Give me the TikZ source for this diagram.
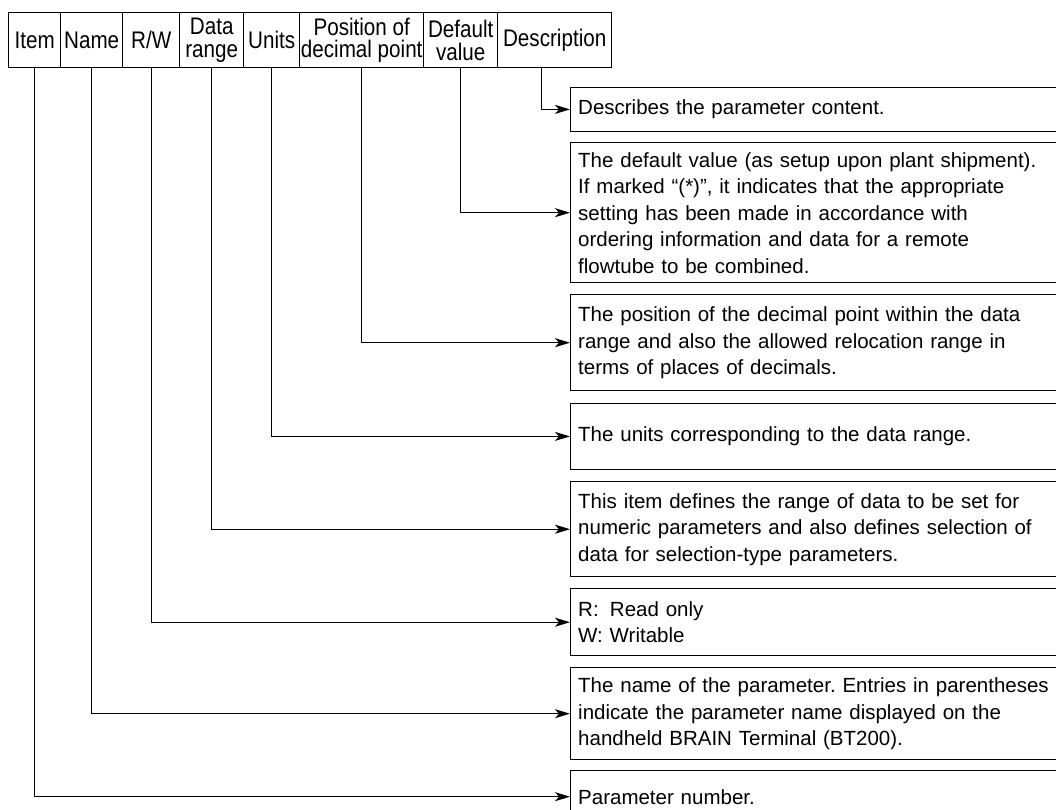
\documentclass[tikz,border=0pt]{standalone}
\usepackage{fontspec}
\setmainfont{Liberation Sans}
\newfontfamily\hdrfont[FakeStretch=0.86]{Liberation Sans}
\usetikzlibrary{arrows.meta}
\begin{document}
\frenchspacing
\begin{tikzpicture}[x=1pt,y=-1pt,
  hcell/.style={draw, line width=1.4pt, minimum height=55pt, inner sep=0pt, anchor=north west, align=center, font=\hdrfont\fontsize{24}{22.5}\selectfont},
  dbox/.style={draw, line width=1.4pt, anchor=north west, inner xsep=7.5pt, inner ysep=0pt, text width=480pt, align=left, font=\fontsize{20.5}{26.5}\selectfont},
  conn/.style={line width=1.3pt, -{Stealth[length=15pt,width=9pt,inset=4pt]}}
]
\useasboundingbox (0,0) rectangle (1056,809);
\clip (0,0) rectangle (1056,809);
\fill[white] (0,0) rectangle (1056,809);

% header
\node[hcell, minimum width=52pt]  (hItem) at (8,12)   {Item};
\node[hcell, minimum width=62pt]  (hName) at (60,12)  {Name};
\node[hcell, minimum width=57pt]  (hRW)   at (122,12) {R/W};
\node[hcell, minimum width=64pt]  (hData) at (179,12) {Data\\range};
\node[hcell, minimum width=56pt]  (hUnit) at (243,12) {Units};
\node[hcell, minimum width=124pt] (hPos)  at (299,12) {Position of\\decimal point};
\node[hcell, minimum width=74pt]  (hDef)  at (423,12) {Default\\value};
\node[hcell, minimum width=114pt] (hDesc) at (497,12) {Description};

% description boxes
\node[dbox, minimum height=44pt]  (bDesc) at (570,86.7) {Describes the parameter content.};
\node[dbox, minimum height=140pt] (bDef)  at (570,142) {The default value (as setup upon plant shipment).\\If marked “(*)”, it indicates that the appropriate\\setting has been made in accordance with\\ordering information and data for a remote\\flowtube to be combined.};
\node[dbox, minimum height=96pt]  (bPos)  at (570,294) {The position of the decimal point within the data\\range and also the allowed relocation range in\\terms of places of decimals.};
\node[dbox, minimum height=66pt]  (bUnit) at (570,402.7) {The units corresponding to the data range.};
\node[dbox, minimum height=95pt]  (bData) at (570,481) {This item defines the range of data to be set for\\numeric parameters and also defines selection of\\data for selection-type parameters.};
\node[dbox, minimum height=67pt]  (bRW)   at (570,588) {R:\hspace{0.55em}Read only\\W: Writable};
\node[dbox, minimum height=92pt]  (bName) at (570,667) {The name of the parameter. Entries in parentheses\\indicate the parameter name displayed on the\\handheld BRAIN Terminal (BT200).};
\node[dbox, minimum height=52pt]  (bItem) at (570,770) {Parameter number.};

% connectors
\draw[conn] ([xshift=-13pt]hDesc.south) |- (bDesc.west);
\draw[conn] (hDef.south)  |- (bDef.west);
\draw[conn] (hPos.south)  |- (bPos.west);
\draw[conn] (hUnit.south) |- (bUnit.west);
\draw[conn] (hData.south) |- (bData.west);
\draw[conn] (hRW.south)   |- (bRW.west);
\draw[conn] (hName.south) |- (bName.west);
\draw[conn] (hItem.south) |- (bItem.west);
\end{tikzpicture}
\end{document}
